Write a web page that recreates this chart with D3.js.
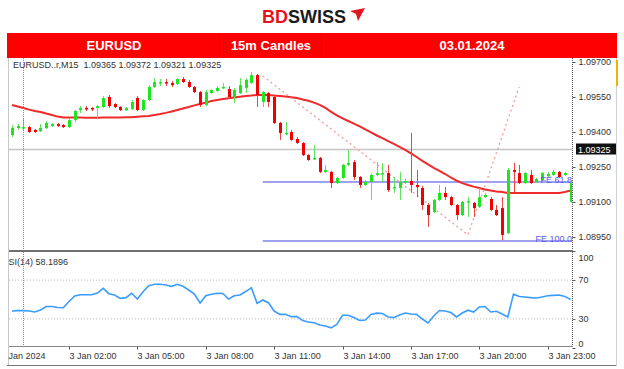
<!DOCTYPE html>
<html>
<head>
<meta charset="utf-8">
<script src="https://cdn.jsdelivr.net/npm/d3@7"></script>
<style>
  body { margin: 0; background: #fff; }
  svg { display: block; font-family: "Liberation Sans", Arial, sans-serif; }
</style>
</head>
<body>
<div id="chart"></div>
<script>
// EURUSD M15, 2 Jan 23:30 .. 4 Jan 00:00 (index 2 = 3 Jan 00:00)
const opens = [1.09387,1.09417,1.09417,1.09421,1.09409,1.09404,1.09417,1.09426,1.09434,1.09430,
  1.09421,1.09451,1.09494,1.09503,1.09503,1.09503,1.09507,1.09550,1.09520,1.09507,
  1.09494,1.09499,1.09546,1.09494,1.09537,1.09593,1.09610,1.09614,1.09610,1.09606,
  1.09627,1.09614,1.09593,1.09571,1.09516,1.09567,1.09576,1.09589,1.09584,1.09550,
  1.09567,1.09589,1.09610,1.09644,1.09529,1.09567,1.09550,1.09439,1.09391,1.09400,
  1.09370,1.09353,1.09301,1.09284,1.09289,1.09229,1.09229,1.09181,1.09203,1.09259,
  1.09271,1.09207,1.09173,1.09186,1.09216,1.09220,1.09224,1.09160,1.09160,1.09186,
  1.09190,1.09173,1.09160,1.09087,1.09057,1.09109,1.09139,1.09121,1.09087,1.09044,
  1.09100,1.09096,1.09079,1.09121,1.09113,1.09066,1.09074,1.08967,1.09237,1.09224,
  1.09181,1.09216,1.09186,1.09194,1.09211,1.09216,1.09229,1.09216,1.09100];
const highs = [1.09430,1.09434,1.09460,1.09426,1.09413,1.09434,1.09447,1.09439,1.09439,1.09434,
  1.09456,1.09494,1.09511,1.09511,1.09507,1.09516,1.09554,1.09559,1.09524,1.09511,
  1.09507,1.09537,1.09554,1.09541,1.09601,1.09631,1.09627,1.09627,1.09619,1.09631,
  1.09636,1.09623,1.09597,1.09576,1.09580,1.09584,1.09597,1.09610,1.09597,1.09589,
  1.09631,1.09631,1.09657,1.09649,1.09576,1.09571,1.09554,1.09443,1.09443,1.09409,
  1.09379,1.09357,1.09306,1.09344,1.09293,1.09259,1.09233,1.09207,1.09263,1.09323,
  1.09280,1.09211,1.09194,1.09224,1.09271,1.09267,1.09259,1.09207,1.09229,1.09199,
  1.09396,1.09237,1.09169,1.09096,1.09113,1.09173,1.09164,1.09126,1.09091,1.09104,
  1.09121,1.09100,1.09160,1.09139,1.09121,1.09087,1.09121,1.09246,1.09267,1.09259,
  1.09229,1.09237,1.09203,1.09229,1.09229,1.09237,1.09233,1.09229,1.09194];
const lows = [1.09379,1.09409,1.09404,1.09396,1.09396,1.09400,1.09413,1.09421,1.09421,1.09417,
  1.09417,1.09443,1.09481,1.09490,1.09490,1.09456,1.09503,1.09503,1.09503,1.09490,
  1.09490,1.09494,1.09490,1.09490,1.09533,1.09589,1.09597,1.09597,1.09593,1.09601,
  1.09610,1.09589,1.09567,1.09507,1.09511,1.09563,1.09571,1.09584,1.09546,1.09524,
  1.09563,1.09567,1.09606,1.09507,1.09507,1.09507,1.09434,1.09366,1.09387,1.09361,
  1.09349,1.09297,1.09276,1.09280,1.09224,1.09224,1.09160,1.09177,1.09199,1.09254,
  1.09194,1.09160,1.09169,1.09109,1.09211,1.09186,1.09143,1.09139,1.09109,1.09177,
  1.09139,1.09121,1.09066,1.08993,1.09053,1.09104,1.09109,1.09083,1.09023,1.09040,
  1.09036,1.09036,1.09074,1.09117,1.09061,1.09040,1.08937,1.08963,1.09139,1.09177,
  1.09177,1.09177,1.09181,1.09190,1.09207,1.09211,1.09203,1.09211,1.09096];
const closes = [1.09417,1.09426,1.09421,1.09400,1.09400,1.09417,1.09439,1.09434,1.09426,1.09421,
  1.09451,1.09490,1.09503,1.09499,1.09499,1.09511,1.09546,1.09511,1.09507,1.09494,
  1.09503,1.09529,1.09494,1.09537,1.09593,1.09614,1.09614,1.09610,1.09601,1.09627,
  1.09614,1.09593,1.09571,1.09516,1.09571,1.09580,1.09589,1.09593,1.09550,1.09580,
  1.09601,1.09623,1.09644,1.09559,1.09571,1.09529,1.09439,1.09396,1.09396,1.09366,
  1.09353,1.09301,1.09280,1.09289,1.09229,1.09237,1.09181,1.09203,1.09259,1.09267,
  1.09207,1.09173,1.09186,1.09216,1.09224,1.09224,1.09151,1.09164,1.09186,1.09190,
  1.09173,1.09164,1.09087,1.09044,1.09109,1.09139,1.09121,1.09087,1.09044,1.09100,
  1.09104,1.09074,1.09121,1.09130,1.09066,1.09044,1.08959,1.09237,1.09229,1.09181,
  1.09224,1.09181,1.09199,1.09224,1.09220,1.09229,1.09207,1.09224,1.09181];
// red moving average line
const maValues = [1.09516,1.09509,1.09503,1.09496,1.09490,1.09486,1.09479,1.09473,1.09466,1.09462,
  1.09462,1.09462,1.09462,1.09461,1.09461,1.09461,1.09462,1.09462,1.09462,1.09462,
  1.09463,1.09463,1.09465,1.09467,1.09469,1.09473,1.09477,1.09482,1.09488,1.09494,
  1.09501,1.09507,1.09514,1.09520,1.09526,1.09533,1.09537,1.09541,1.09545,1.09548,
  1.09551,1.09554,1.09556,1.09559,1.09559,1.09559,1.09556,1.09554,1.09552,1.09549,
  1.09546,1.09539,1.09534,1.09526,1.09516,1.09503,1.09486,1.09471,1.09458,1.09447,
  1.09436,1.09424,1.09411,1.09398,1.09385,1.09374,1.09361,1.09349,1.09336,1.09323,
  1.09308,1.09293,1.09276,1.09261,1.09246,1.09233,1.09220,1.09205,1.09192,1.09181,
  1.09173,1.09166,1.09160,1.09154,1.09149,1.09145,1.09143,1.09139,1.09139,1.09139,
  1.09139,1.09139,1.09139,1.09139,1.09139,1.09139,1.09139,1.09143,1.09149];
const rsiValues = [38.1,38.5,38.5,38.1,37.1,39.2,42.8,42.8,41.8,41.5,
  47.9,53.6,54.9,54.9,54.9,56.7,61.5,56.0,54.6,51.2,
  51.9,56.4,50.5,58.0,64.2,65.7,65.7,64.9,63.6,65.7,
  63.6,59.8,55.7,46.4,53.9,55.4,56.4,56.2,50.5,53.9,
  54.6,58.2,62.2,46.1,49.5,46.7,38.1,34.7,34.7,32.3,
  32.3,28.4,26.8,26.1,23.7,22.7,20.8,24.3,33.7,33.7,
  31.4,28.4,28.9,34.5,35.9,35.5,32.0,31.3,34.0,36.1,
  35.1,34.7,29.9,25.8,33.0,38.7,38.2,36.5,32.0,36.1,
  39.0,37.1,42.3,42.8,37.1,37.9,35.1,32.0,55.5,53.1,
  52.6,51.9,51.5,52.6,53.9,54.3,54.6,53.2,50.0];

const priceTicks = [1.0970, 1.0955, 1.0940, 1.0925, 1.0910, 1.0895];
const lastPrice = 1.09325;
const rsiTicks = [100, 70, 30, 0];
const rsiLevels = [70, 30];
const timeTickIdx = [2, 10, 22, 34, 46, 58, 70, 82, 94];
const timeTickLabels = ["3 Jan 2024", "3 Jan 02:00", "3 Jan 05:00", "3 Jan 08:00", "3 Jan 11:00",
  "3 Jan 14:00", "3 Jan 17:00", "3 Jan 20:00", "3 Jan 23:00"];
// fibo expansion: anchor points and levels
const fiboIdx = [44, 80, 89];
const fiboPrice = [1.09640, 1.08959, 1.09593];
const feLevels = [1.09186, 1.08933];
const feLabels = ["FE 61.8", "FE 100.0"];
const titleText = "EURUSD..r,M15  1.09365 1.09372 1.09321 1.09325";
const rsiText = "RSI(14) 58.1896";
const bannerLabels = ["EURUSD", "15m Candles", "03.01.2024"];

const W = 624, H = 369;
const svg = d3.select("#chart").append("svg").attr("width", W).attr("height", H);

const x = d3.scaleLinear().domain([0, opens.length - 1]).range([12, 570.5]);
const y = d3.scaleLinear().domain([1.0895, 1.0970]).range([237, 62]);
const yRsi = d3.scaleLinear().domain([0, 100]).range([348, 251]);

const defs = svg.append("defs");
defs.append("clipPath").attr("id", "clipMain")
  .append("rect").attr("x", 9).attr("y", 58).attr("width", 563).attr("height", 191);
defs.append("clipPath").attr("id", "clipRsi")
  .append("rect").attr("x", 9).attr("y", 252).attr("width", 563).attr("height", 94);
defs.append("clipPath").attr("id", "clipLeft")
  .append("rect").attr("x", 8).attr("y", 0).attr("width", W).attr("height", H);

function drawHeader() {
  const logo = svg.append("text").attr("x", 262).attr("y", 23)
    .style("font-size", "18px").style("font-weight", "bold");
  logo.append("tspan").attr("fill", "#e3141b").text("BD");
  logo.append("tspan").attr("fill", "#1b1b1b").text("SWISS");
  svg.append("path").attr("d", "M350,11 L365,8 L358,21 L356,14 Z").attr("fill", "#e3141b");

  svg.append("rect").attr("x", 7).attr("y", 33).attr("width", 610).attr("height", 25).attr("fill", "#ff0000");
  svg.selectAll("line.sep").data([219, 321]).join("line").attr("class", "sep")
    .attr("x1", d => d + 0.5).attr("x2", d => d + 0.5).attr("y1", 33).attr("y2", 58)
    .attr("stroke", "#c80000");
  svg.selectAll("text.banner").data(bannerLabels).join("text").attr("class", "banner")
    .attr("x", (d, i) => [114, 271, 472][i]).attr("y", 50)
    .attr("text-anchor", "middle").attr("fill", "#fff")
    .style("font-size", "13px").style("font-weight", "bold").text(d => d);
}

function drawMain() {
  const g = svg.append("g").attr("clip-path", "url(#clipMain)");

  g.append("line").attr("x1", 9).attr("x2", 572).attr("y1", y(lastPrice)).attr("y2", y(lastPrice))
    .attr("stroke", "#c4c4c4").attr("stroke-width", 1.5);

  g.selectAll("line.fe").data(feLevels).join("line").attr("class", "fe")
    .attr("x1", x(fiboIdx[0])).attr("x2", 572)
    .attr("y1", d => y(d)).attr("y2", d => y(d))
    .attr("stroke", "#8282f0").attr("stroke-width", 1.5);

  const maLine = d3.line().x((d, i) => x(i)).y(d => y(d));
  g.append("path").datum(maValues).attr("d", maLine)
    .attr("fill", "none").attr("stroke", "#f02a2a").attr("stroke-width", 2);

  g.append("path").datum(fiboIdx.map((d, i) => [x(d), y(fiboPrice[i])]))
    .attr("d", d3.line())
    .attr("fill", "none").attr("stroke", "#f59a9a").attr("stroke-width", 1.3)
    .attr("stroke-dasharray", "2,3");

  const candles = d3.range(opens.length).map(i => ({ i: i, o: opens[i], h: highs[i], l: lows[i], c: closes[i] }));
  g.selectAll("line.wick").data(candles).join("line").attr("class", "wick")
    .attr("x1", d => Math.round(x(d.i)) + 0.5).attr("x2", d => Math.round(x(d.i)) + 0.5)
    .attr("y1", d => y(d.h)).attr("y2", d => y(d.l))
    .attr("stroke", d => d.c >= d.o ? "#5ee35e" : "#ee4646");
  g.selectAll("rect.body").data(candles).join("rect").attr("class", "body")
    .attr("x", d => Math.round(x(d.i)) - 1).attr("width", 3)
    .attr("y", d => y(Math.max(d.o, d.c)))
    .attr("height", d => Math.max(1.5, Math.abs(y(d.o) - y(d.c))))
    .attr("fill", d => d.c >= d.o ? "#1ee61e" : "#f20000");

  svg.selectAll("text.fe").data(feLabels).join("text").attr("class", "fe")
    .attr("x", 572).attr("y", (d, i) => y(feLevels[i]) + 1)
    .attr("text-anchor", "end").attr("fill", "#5c5cec")
    .style("font-size", "9px").text(d => d);

  svg.append("text").attr("x", 13).attr("y", 68).attr("fill", "#333")
    .style("font-size", "9px").attr("xml:space", "preserve").text(titleText);

  // price scale on the right
  const axis = svg.append("g").attr("transform", "translate(572.5,0)")
    .call(d3.axisRight(y).tickValues(priceTicks).tickSize(3).tickPadding(3).tickFormat(d3.format(".5f")));
  axis.select(".domain").remove();
  axis.selectAll("line").attr("stroke", "#555");
  axis.selectAll("text").attr("fill", "#333").style("font-size", "9px").style("font-family", "Liberation Sans, Arial, sans-serif");

  svg.append("rect").attr("x", 576).attr("y", y(lastPrice) - 6).attr("width", 40).attr("height", 11).attr("fill", "#111");
  svg.append("text").attr("x", 578).attr("y", y(lastPrice) + 3).attr("fill", "#fff")
    .style("font-size", "9px").text(d3.format(".5f")(lastPrice));
}

function drawRsi() {
  const g = svg.append("g");
  g.selectAll("line.lvl").data(rsiLevels).join("line").attr("class", "lvl")
    .attr("x1", 9).attr("x2", 572).attr("y1", d => yRsi(d)).attr("y2", d => yRsi(d))
    .attr("stroke", "#b8b8b8").attr("stroke-dasharray", "1,2");

  const rsiLine = d3.line().x((d, i) => x(i)).y(d => yRsi(d));
  g.append("g").attr("clip-path", "url(#clipRsi)").append("path").datum(rsiValues).attr("d", rsiLine)
    .attr("fill", "none").attr("stroke", "#3a9cff").attr("stroke-width", 1.6);

  svg.append("text").attr("x", 2).attr("y", 265).attr("fill", "#333").attr("clip-path", "url(#clipLeft)")
    .style("font-size", "9px").text(rsiText);

  const axis = svg.append("g").attr("transform", "translate(572.5,0)")
    .call(d3.axisRight(yRsi).tickValues(rsiTicks).tickSize(3).tickPadding(3));
  axis.select(".domain").remove();
  axis.selectAll("line").attr("stroke", "#555");
  axis.selectAll("text").attr("fill", "#333").style("font-size", "9px")
    .attr("dy", d => d === 100 ? "1em" : d === 0 ? "-0.15em" : "0.32em");
}

function drawFrame() {
  // day separator
  svg.append("line").attr("x1", Math.round(x(2)) + 0.5).attr("x2", Math.round(x(2)) + 0.5)
    .attr("y1", 58).attr("y2", 346).attr("stroke", "#888").attr("stroke-dasharray", "1,1");
  svg.append("line").attr("x1", 572.5).attr("x2", 572.5).attr("y1", 58).attr("y2", 346)
    .attr("stroke", "#555").attr("stroke-dasharray", "1,1");
  svg.append("line").attr("x1", 9).attr("x2", 573).attr("y1", 251).attr("y2", 251)
    .attr("stroke", "#707070").attr("stroke-width", 2);
  svg.append("line").attr("x1", 9).attr("x2", 573).attr("y1", 346.5).attr("y2", 346.5).attr("stroke", "#888");
  svg.append("line").attr("x1", 8.5).attr("x2", 8.5).attr("y1", 58).attr("y2", 366).attr("stroke", "#c8c8c8");
  svg.append("line").attr("x1", 7).attr("x2", 617).attr("y1", 365.5).attr("y2", 365.5).attr("stroke", "#777");
  svg.append("line").attr("x1", 616.5).attr("x2", 616.5).attr("y1", 58).attr("y2", 366).attr("stroke", "#d0d0d0");
  svg.append("rect").attr("x", 616).attr("y", 60).attr("width", 2).attr("height", 26).attr("fill", "#f0b400");

  const axis = svg.append("g").attr("transform", "translate(0,346.5)").attr("clip-path", "url(#clipLeft)")
    .call(d3.axisBottom(x).tickValues(timeTickIdx).tickSize(3).tickPadding(3)
      .tickFormat((d, i) => timeTickLabels[i]));
  axis.select(".domain").remove();
  axis.selectAll(".tick").attr("transform", d => "translate(" + (Math.round(x(d)) + 0.5) + ",0)");
  axis.selectAll("line").attr("stroke", "#555").attr("opacity", (d, i) => i === 0 ? 0 : 1);
  axis.selectAll("text").attr("fill", "#333").style("font-size", "9px")
    .style("font-family", "Liberation Sans, Arial, sans-serif")
    .attr("text-anchor", "start")
    .attr("x", (d, i) => i === 0 ? 0.5 - Math.round(x(d)) : 0);
}

drawHeader();
drawMain();
drawRsi();
drawFrame();
</script>
</body>
</html>
